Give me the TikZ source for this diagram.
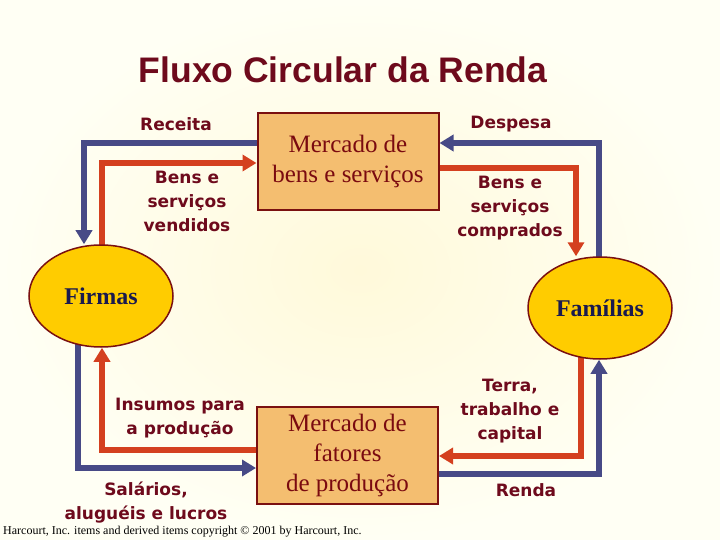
\documentclass[tikz,border=0pt]{standalone}
\usepackage{fontspec}
\setmainfont{Liberation Serif}
\newfontfamily\labfont{DejaVu Sans}
\newfontfamily\titfont{Liberation Sans}
\usetikzlibrary{arrows.meta,shapes.geometric,calc}
\definecolor{bgout}{HTML}{FFFFF4}
\definecolor{bgin}{HTML}{FFF9DA}
\definecolor{maroon}{HTML}{6E0A1C}
\definecolor{boxtext}{HTML}{7A0A10}
\definecolor{boxfill}{HTML}{F4BE70}
\definecolor{boxline}{HTML}{7A1010}
\definecolor{gold}{HTML}{FFCC00}
\definecolor{navy}{HTML}{1A1A4E}
\definecolor{flowblue}{HTML}{474A86}
\definecolor{flowred}{HTML}{D4401F}
\pgfdeclarelayer{bg}
\pgfdeclarelayer{flows}
\pgfsetlayers{bg,flows,main}
\tikzset{
  market/.style={draw=boxline, line width=2pt, fill=boxfill, text=boxtext,
    minimum width=181pt, minimum height=97pt, inner sep=0pt, align=center,
    font=\fontsize{25}{30}\selectfont},
  agent/.style={ellipse, draw=boxline, line width=1.5pt, fill=gold, text=navy,
    minimum width=144pt, minimum height=102pt, inner sep=0pt,
    font=\fontsize{24}{28}\selectfont\bfseries},
  flowlabel/.style={text=maroon, align=center, inner sep=0pt,
    font=\labfont\fontsize{17}{24}\selectfont\bfseries},
  bluearr/.style={draw=flowblue, line width=6pt, line join=miter,
    -{Triangle[width=16pt,length=14pt]}},
  redarr/.style={draw=flowred, line width=6pt, line join=miter,
    -{Triangle[width=16pt,length=14pt]}},
}
\begin{document}
\begin{tikzpicture}[x=1pt,y=-1pt]
\begin{pgfonlayer}{bg}
\shade[inner color=bgin, outer color=bgout] (0,0) rectangle (720,540);
\end{pgfonlayer}
\useasboundingbox (0,0) rectangle (720,540);

\node[text=maroon, font=\titfont\fontsize{35.5}{38}\selectfont\bfseries] (title) at (343,70) {Fluxo Circular da Renda};

\node[market] (mb) at (348,161.5) {Mercado de\\bens e serviços};
\node[market] (mf) at (347.5,455.5) {Mercado de\\fatores\\de produção};

\node[agent] (fi) at (101,296) {Firmas};
\node[agent] (fa) at (600,308) {Famílias};

\coordinate (c1) at (84,143);
\coordinate (c2) at (102,163);
\coordinate (c3) at (576,168);
\coordinate (c4) at (78,468);
\coordinate (c5) at (102,450);
\coordinate (c6) at (581,456);
\coordinate (c7) at (599,474);
\coordinate (c8) at (599,143);

\begin{pgfonlayer}{flows}
\draw[bluearr] (mb.west |- c1) -- (c1) -- (c1 |- fi.north);
\draw[redarr] (c2 |- fi.center) -- (c2) -- (mb.west |- c2);
\draw[bluearr] (c8 |- fa.center) -- (c8) -- (mb.east |- c8);
\draw[redarr] (mb.east |- c3) -- (c3) -- (c3 |- fa.north);
\draw[bluearr] (c4 |- fi.center) -- (c4) -- (mf.west |- c4);
\draw[redarr] (mf.west |- c5) -- (c5) -- (c5 |- fi.south);
\draw[redarr] (c6 |- fa.center) -- (c6) -- (mf.east |- c6);
\draw[bluearr] (mf.east |- c7) -- (c7) -- (c7 |- fa.south);
\end{pgfonlayer}

\node[flowlabel] (l1) at (176,124) {Receita};
\node[flowlabel] (l2) at (187,201) {Bens e\\serviços\\vendidos};
\node[flowlabel] (l3) at (511,124) {Despesa};
\node[flowlabel] (l4) at (510,208) {Bens e\\serviços\\comprados};
\node[flowlabel] (l5) at (180,418) {Insumos para\\a produção};
\node[flowlabel] (l6) at (146,502.5) {Salários,\\aluguéis e lucros};
\node[flowlabel] (l7) at (510,411) {Terra,\\trabalho e\\capital};
\node[flowlabel] (l8) at (526,490) {Renda};

\node[anchor=west, inner sep=0pt, font=\fontsize{12}{13}\selectfont] (copy) at (3,532) {Harcourt, Inc. items and derived items copyright © 2001 by Harcourt, Inc.};
\end{tikzpicture}
\end{document}
